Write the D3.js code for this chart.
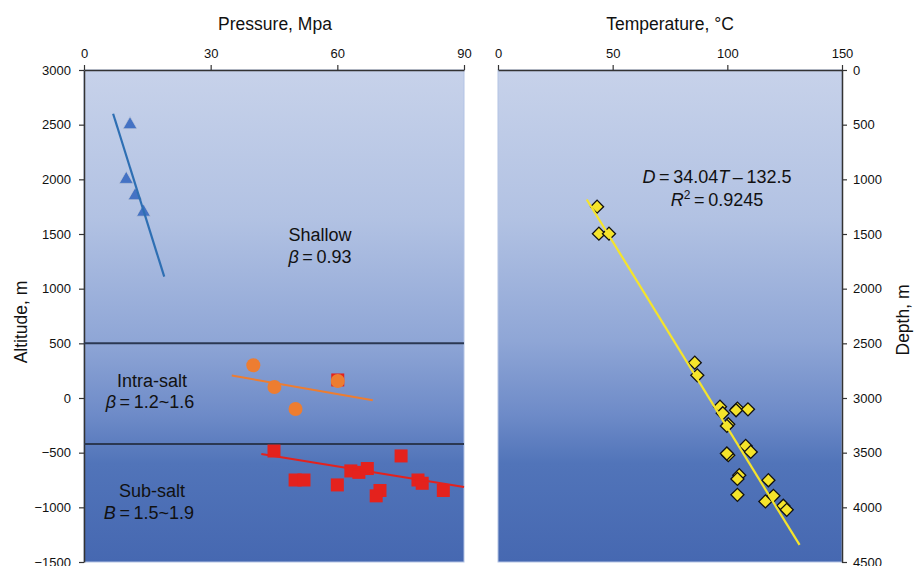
<!DOCTYPE html>
<html><head><meta charset="utf-8">
<script src="https://cdn.jsdelivr.net/npm/d3@7/dist/d3.min.js"></script>
<style>
body{margin:0;background:#fff;}
text{font-family:"Liberation Sans",Arial,sans-serif;fill:#111;}
</style></head>
<body><svg id="c" width="914" height="566"></svg>
<script>
// ---- data ----
const pressureTicks = [0, 30, 60, 90];
const altitudeTicks = [3000, 2500, 2000, 1500, 1000, 500, 0, -500, -1000, -1500];
const tempTicks = [0, 50, 100, 150];
const depthTicks = [0, 500, 1000, 1500, 2000, 2500, 3000, 3500, 4000, 4500];

// shallow (triangles)
const shallowP = [10.9, 10.0, 12.1, 14.1];
const shallowAlt = [2500, 2000, 1850, 1700];
const shallowFitP = [6.9, 19.0];
const shallowFitAlt = [2600, 1110];

// intra-salt (circles)
const intraP = [40.1, 45.1, 50.1, 60.1];
const intraAlt = [300, 100, -100, 155];
const intraFitP = [35.0, 68.4];
const intraFitAlt = [205, -20];

// sub-salt (squares)
const subP = [60.1, 45.0, 50.0, 52.1, 60.0, 63.2, 65.1, 67.1, 75.1, 70.1, 69.2, 79.1, 80.1, 85.1];
const subAlt = [165, -485, -750, -750, -795, -667, -680, -645, -530, -846, -895, -750, -780, -846];
const subFitP = [42.0, 90.0];
const subFitAlt = [-512, -815];

// zone boundaries
const boundaryAlt = [500, -420];

// temperature vs depth (diamonds)
const tempT = [43.2, 44.0, 48.4, 85.8, 86.9, 96.8, 98.0, 100.4, 99.8, 104.4, 103.8, 109.0, 108.0, 110.2, 100.4, 99.8, 105.2, 104.4, 104.4, 117.9, 120.1, 116.6, 124.4, 125.9];
const tempD = [1250, 1497, 1497, 2677, 2793, 3079, 3140, 3240, 3255, 3097, 3112, 3104, 3438, 3493, 3523, 3508, 3706, 3740, 3886, 3752, 3895, 3946, 3986, 4023];
const fitSlope = 34.04, fitIntercept = -132.5;
const fitT = [38.7, 131.5];

// ---- layout ----
const svg = d3.select("#c");
const yTop = 70, yBot = 562;
const L = {x0: 84, x1: 464}, R = {x0: 498, x1: 842};

const xP = d3.scaleLinear().domain([0, 90]).range([L.x0, L.x1]);
const yA = d3.scaleLinear().domain([3000, -1500]).range([yTop, yBot]);
const xT = d3.scaleLinear().domain([0, 150]).range([R.x0, R.x1]);
const yD = d3.scaleLinear().domain([0, 4500]).range([yTop, yBot]);

const defs = svg.append("defs");
const g = defs.append("linearGradient").attr("id", "bg").attr("x1", 0).attr("y1", 0).attr("x2", 0).attr("y2", 1);
[[0, "#c7d2ea"], [0.3, "#b2c2e3"], [0.55, "#8fa6d6"], [0.7, "#6e8bc8"], [0.8, "#5174b9"], [1, "#4668b1"]]
  .forEach(s => g.append("stop").attr("offset", s[0]).attr("stop-color", s[1]));

svg.append("rect").attr("x", L.x0).attr("y", yTop).attr("width", L.x1 - L.x0).attr("height", yBot - yTop)
  .attr("fill", "url(#bg)").attr("stroke", "#b3c3e4").attr("stroke-width", 1);
svg.append("rect").attr("x", R.x0).attr("y", yTop).attr("width", R.x1 - R.x0).attr("height", yBot - yTop)
  .attr("fill", "url(#bg)").attr("stroke", "#b3c3e4").attr("stroke-width", 1);

const fmt = d3.format("d");
function styleAxis(sel) {
  sel.selectAll("path.domain").attr("stroke", "#333").attr("stroke-width", 1.5);
  sel.selectAll(".tick line").attr("stroke", "#333").attr("stroke-width", 1.2);
  sel.selectAll(".tick text").attr("font-family", "Liberation Sans, Arial, sans-serif").attr("font-size", 13).attr("fill", "#111");
}
styleAxis(svg.append("g").attr("transform", `translate(0,${yTop})`)
  .call(d3.axisTop(xP).tickValues(pressureTicks).tickFormat(fmt).tickSize(5).tickSizeOuter(0).tickPadding(7)));
styleAxis(svg.append("g").attr("transform", `translate(${L.x0},0)`)
  .call(d3.axisLeft(yA).tickValues(altitudeTicks).tickFormat(fmt).tickSize(5).tickSizeOuter(0).tickPadding(8)));
styleAxis(svg.append("g").attr("transform", `translate(0,${yTop})`)
  .call(d3.axisTop(xT).tickValues(tempTicks).tickFormat(fmt).tickSize(5).tickSizeOuter(0).tickPadding(7)));
styleAxis(svg.append("g").attr("transform", `translate(${R.x1},0)`)
  .call(d3.axisRight(yD).tickValues(depthTicks).tickFormat(fmt).tickSize(5).tickSizeOuter(0).tickPadding(6)));

// axis titles
svg.append("text").attr("x", 275).attr("y", 30).attr("text-anchor", "middle").attr("font-size", 17.5).text("Pressure, Mpa");
svg.append("text").attr("x", 670).attr("y", 30).attr("text-anchor", "middle").attr("font-size", 17.5).text("Temperature, °C");
svg.append("text").attr("transform", "translate(27,322) rotate(-90)").attr("text-anchor", "middle").attr("font-size", 17.5).text("Altitude, m");
svg.append("text").attr("transform", "translate(909,320) rotate(-90)").attr("text-anchor", "middle").attr("font-size", 17.5).text("Depth, m");

// zone boundaries
svg.selectAll("line.bnd").data(boundaryAlt).enter().append("line")
  .attr("x1", L.x0).attr("x2", L.x1).attr("y1", d => yA(d)).attr("y2", d => yA(d))
  .attr("stroke", "#2b3852").attr("stroke-width", 2);

const line = d3.line();
// sub-salt squares
svg.selectAll("rect.sub").data(subP.map((p, i) => [p, subAlt[i]])).enter().append("rect")
  .attr("x", d => xP(d[0]) - 6.5).attr("y", d => yA(d[1]) - 6.5).attr("width", 13).attr("height", 13)
  .attr("fill", "#e4221d");
svg.append("path").attr("d", line(subFitP.map((p, i) => [xP(p), yA(subFitAlt[i])])))
  .attr("stroke", "#e4221d").attr("stroke-width", 2).attr("fill", "none");

// intra-salt circles
svg.selectAll("circle.intra").data(intraP.map((p, i) => [p, intraAlt[i]])).enter().append("circle")
  .attr("cx", d => xP(d[0])).attr("cy", d => yA(d[1])).attr("r", 7).attr("fill", "#ed7d31");
svg.append("path").attr("d", line(intraFitP.map((p, i) => [xP(p), yA(intraFitAlt[i])])))
  .attr("stroke", "#ed7d31").attr("stroke-width", 2).attr("fill", "none");

// shallow triangles
const tri = d3.symbol().type(d3.symbolTriangle).size(85);
svg.selectAll("path.sh").data(shallowP.map((p, i) => [p, shallowAlt[i]])).enter().append("path")
  .attr("d", tri).attr("transform", d => `translate(${xP(d[0])},${yA(d[1])})`)
  .attr("fill", "#4472c4").attr("stroke", "#c0c8da").attr("stroke-width", 0.7);
svg.append("path").attr("d", line(shallowFitP.map((p, i) => [xP(p), yA(shallowFitAlt[i])])))
  .attr("stroke", "#2e6fb3").attr("stroke-width", 2.2).attr("fill", "none");

// diamonds
const dia = d3.symbol().type(d3.symbolSquare).size(85);
svg.selectAll("path.dm").data(tempT.map((t, i) => [t, tempD[i]])).enter().append("path")
  .attr("d", dia).attr("transform", d => `translate(${xT(d[0])},${yD(d[1])}) rotate(45)`)
  .attr("fill", "#f5e42b").attr("stroke", "#111").attr("stroke-width", 1.3);
svg.append("path").attr("d", line(fitT.map(t => [xT(t), yD(fitSlope * t + fitIntercept)])))
  .attr("stroke", "#f5e42b").attr("stroke-width", 2.2).attr("fill", "none");

// annotations
function rich(x, y, parts) {
  const t = svg.append("text").attr("x", x).attr("y", y).attr("text-anchor", "middle").attr("font-size", 18);
  parts.forEach(p => {
    const s = t.append("tspan").text(p[0]);
    if (p[1] === "i") s.attr("font-style", "italic");
    if (p[1] === "sup") s.attr("font-size", 12).attr("dy", -7);
    if (p[1] === "after") s.attr("dy", 7);
  });
  return t;
}
const sp = "\u2009";
rich(320, 241, [["Shallow"]]);
rich(320, 263, [["β", "i"], [sp + "=" + sp + "0.93"]]);
rich(152, 387, [["Intra-salt"]]);
rich(150, 408, [["β", "i"], [sp + "=" + sp + "1.2~1.6"]]);
rich(152, 497, [["Sub-salt"]]);
rich(149, 519, [["B", "i"], [sp + "=" + sp + "1.5~1.9"]]);
rich(717, 183, [["D", "i"], [sp + "=" + sp + "34.04"], ["T", "i"], [sp + "\u2013" + sp + "132.5"]]);
rich(717, 206, [["R", "i"], ["2", "sup"], [sp + "=" + sp + "0.9245", "after"]]);
</script></body></html>
